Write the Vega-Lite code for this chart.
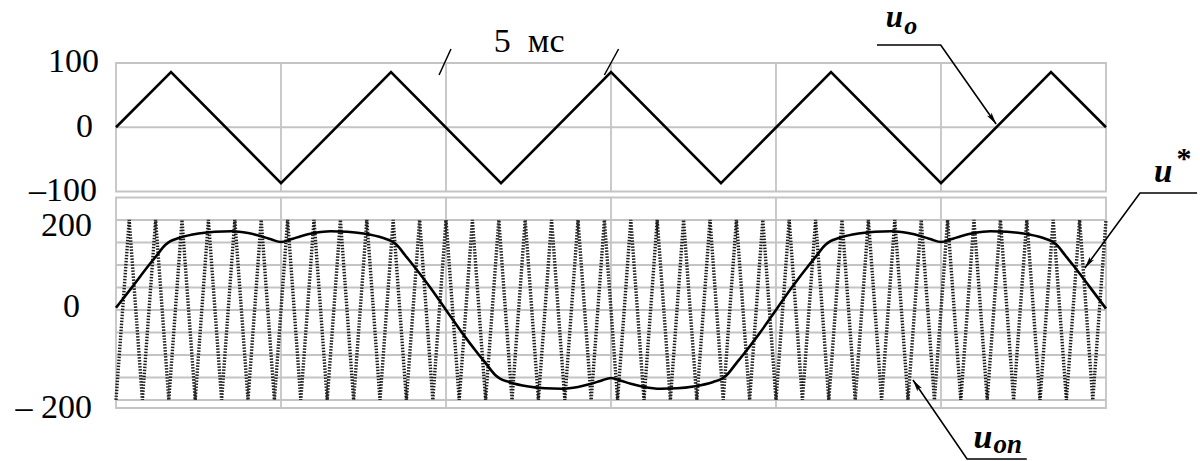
{
  "$schema": "https://vega.github.io/schema/vega-lite/v6.json",
  "width": 990,
  "height": 345,
  "autosize": {"type": "none"},
  "padding": {"left": 116, "top": 63, "right": 94, "bottom": 53},
  "background": "white",
  "config": {"view": {"stroke": null}, "font": "Liberation Serif"},
  "datasets": {
    "uo": [
      {"t": 0, "v": 0}, {"t": 1.667, "v": 86}, {"t": 5, "v": -87}, {"t": 8.333, "v": 86},
      {"t": 11.667, "v": -87}, {"t": 15, "v": 86}, {"t": 18.333, "v": -87}, {"t": 21.667, "v": 86},
      {"t": 25, "v": -87}, {"t": 28.333, "v": 86}, {"t": 30, "v": 0}
    ],
    "ustar": [
      {"t": 0, "v": 5}, {"t": 0.5, "v": 52}, {"t": 1.0, "v": 100}, {"t": 1.2, "v": 118}, {"t": 1.5, "v": 145},
      {"t": 1.65, "v": 153}, {"t": 1.9, "v": 160}, {"t": 2.5, "v": 170}, {"t": 3.0, "v": 174}, {"t": 3.5, "v": 175},
      {"t": 4.0, "v": 171}, {"t": 4.4, "v": 164}, {"t": 4.7, "v": 157}, {"t": 5.0, "v": 151}, {"t": 5.3, "v": 157},
      {"t": 5.6, "v": 164}, {"t": 6.0, "v": 171}, {"t": 6.5, "v": 175}, {"t": 7.0, "v": 174}, {"t": 7.5, "v": 170},
      {"t": 8.1, "v": 160}, {"t": 8.35, "v": 153}, {"t": 8.5, "v": 145}, {"t": 8.8, "v": 118}, {"t": 9.0, "v": 100},
      {"t": 9.5, "v": 52}, {"t": 10.0, "v": 0}, {"t": 10.5, "v": -52}, {"t": 11.0, "v": -100}, {"t": 11.2, "v": -118},
      {"t": 11.5, "v": -145}, {"t": 11.65, "v": -153}, {"t": 11.9, "v": -160}, {"t": 12.5, "v": -170}, {"t": 13.0, "v": -174},
      {"t": 13.5, "v": -175}, {"t": 14.0, "v": -171}, {"t": 14.4, "v": -164}, {"t": 14.7, "v": -157}, {"t": 15.0, "v": -151},
      {"t": 15.3, "v": -157}, {"t": 15.6, "v": -164}, {"t": 16.0, "v": -171}, {"t": 16.5, "v": -175}, {"t": 17.0, "v": -174},
      {"t": 17.5, "v": -170}, {"t": 18.1, "v": -160}, {"t": 18.35, "v": -153}, {"t": 18.5, "v": -145}, {"t": 18.8, "v": -118},
      {"t": 19.0, "v": -100}, {"t": 19.5, "v": -52}, {"t": 20.0, "v": 0}, {"t": 20.5, "v": 52}, {"t": 21.0, "v": 100},
      {"t": 21.2, "v": 118}, {"t": 21.5, "v": 145}, {"t": 21.65, "v": 153}, {"t": 21.9, "v": 160}, {"t": 22.5, "v": 170},
      {"t": 23.0, "v": 174}, {"t": 23.5, "v": 175}, {"t": 24.0, "v": 171}, {"t": 24.4, "v": 164}, {"t": 24.7, "v": 157},
      {"t": 25.0, "v": 151}, {"t": 25.3, "v": 157}, {"t": 25.6, "v": 164}, {"t": 26.0, "v": 171}, {"t": 26.5, "v": 175},
      {"t": 27.0, "v": 174}, {"t": 27.5, "v": 170}, {"t": 28.1, "v": 160}, {"t": 28.35, "v": 153}, {"t": 28.5, "v": 145},
      {"t": 28.8, "v": 118}, {"t": 29.0, "v": 100}, {"t": 29.5, "v": 52}, {"t": 30.0, "v": 3}
    ],
    "carrier": [
      {"t": 0, "v": -200}, {"t": 0.4, "v": 200}, {"t": 0.8, "v": -200}, {"t": 1.2, "v": 200}, {"t": 1.6, "v": -200},
      {"t": 2.0, "v": 200}, {"t": 2.4, "v": -200}, {"t": 2.8, "v": 200}, {"t": 3.2, "v": -200}, {"t": 3.6, "v": 200},
      {"t": 4.0, "v": -200}, {"t": 4.4, "v": 200}, {"t": 4.8, "v": -200}, {"t": 5.2, "v": 200}, {"t": 5.6, "v": -200},
      {"t": 6.0, "v": 200}, {"t": 6.4, "v": -200}, {"t": 6.8, "v": 200}, {"t": 7.2, "v": -200}, {"t": 7.6, "v": 200},
      {"t": 8.0, "v": -200}, {"t": 8.4, "v": 200}, {"t": 8.8, "v": -200}, {"t": 9.2, "v": 200}, {"t": 9.6, "v": -200},
      {"t": 10.0, "v": 200}, {"t": 10.4, "v": -200}, {"t": 10.8, "v": 200}, {"t": 11.2, "v": -200}, {"t": 11.6, "v": 200},
      {"t": 12.0, "v": -200}, {"t": 12.4, "v": 200}, {"t": 12.8, "v": -200}, {"t": 13.2, "v": 200}, {"t": 13.6, "v": -200},
      {"t": 14.0, "v": 200}, {"t": 14.4, "v": -200}, {"t": 14.8, "v": 200}, {"t": 15.2, "v": -200}, {"t": 15.6, "v": 200},
      {"t": 16.0, "v": -200}, {"t": 16.4, "v": 200}, {"t": 16.8, "v": -200}, {"t": 17.2, "v": 200}, {"t": 17.6, "v": -200},
      {"t": 18.0, "v": 200}, {"t": 18.4, "v": -200}, {"t": 18.8, "v": 200}, {"t": 19.2, "v": -200}, {"t": 19.6, "v": 200},
      {"t": 20.0, "v": -200}, {"t": 20.4, "v": 200}, {"t": 20.8, "v": -200}, {"t": 21.2, "v": 200}, {"t": 21.6, "v": -200},
      {"t": 22.0, "v": 200}, {"t": 22.4, "v": -200}, {"t": 22.8, "v": 200}, {"t": 23.2, "v": -200}, {"t": 23.6, "v": 200},
      {"t": 24.0, "v": -200}, {"t": 24.4, "v": 200}, {"t": 24.8, "v": -200}, {"t": 25.2, "v": 200}, {"t": 25.6, "v": -200},
      {"t": 26.0, "v": 200}, {"t": 26.4, "v": -200}, {"t": 26.8, "v": 200}, {"t": 27.2, "v": -200}, {"t": 27.6, "v": 200},
      {"t": 28.0, "v": -200}, {"t": 28.4, "v": 200}, {"t": 28.8, "v": -200}, {"t": 29.2, "v": 200}, {"t": 29.6, "v": -200},
      {"t": 30.0, "v": 200}
    ],
    "vgrid": [{"t": 5}, {"t": 10}, {"t": 15}, {"t": 20}, {"t": 25}],
    "hgrid": [{"v": -200}, {"v": -150}, {"v": -100}, {"v": -50}, {"v": 0}, {"v": 50}, {"v": 100}, {"v": 150}, {"v": 200}],
    "top_labels": [
      {"t": -0.515, "v": 102, "s": "100"},
      {"t": -0.697, "v": 0, "s": "0"},
      {"t": -0.576, "v": -98.5, "s": "–100"}
    ],
    "bottom_labels": [
      {"t": -0.727, "v": 186.5, "s": "200"},
      {"t": -1.09, "v": 6.7, "s": "0"},
      {"t": -0.727, "v": -217.8, "s": "– 200"}
    ],
    "slashes": [
      {"t": 9.79, "v": 81.3, "t2": 10.15, "v2": 121.8},
      {"t": 14.8, "v": 81.3, "t2": 15.23, "v2": 121.8}
    ],
    "uo_arrow": [{"t": 23.06, "v": 128}, {"t": 24.99, "v": 128}, {"t": 26.67, "v": 5.1}],
    "uo_head": [{"t": 26.67, "v": 5.1}],
    "uo_text": [{"t": 23.59, "v": 156, "s": "u", "k": "main"}, {"t": 24.08, "v": 145.1, "s": "o", "k": "sub"}],
    "us_arrow": [{"t": 29.36, "v": 93.4}, {"t": 31.03, "v": 260}, {"t": 32.76, "v": 260}],
    "us_head": [{"t": 29.36, "v": 93.4}],
    "uon_arrow": [{"t": 24.15, "v": -155.5}, {"t": 25.79, "v": -331.1}, {"t": 27.6, "v": -331.1}],
    "uon_head": [{"t": 24.15, "v": -155.5}]
  },
  "layer": [
    {
      "layer": [
        {
          "data": {"values": [{}]},
          "mark": {"type": "rect", "fill": null, "stroke": "#c4c4c4", "strokeWidth": 1.8},
          "encoding": {
            "x": {"datum": 0, "type": "quantitative", "scale": {"domain": [0, 30], "nice": false}, "axis": null},
            "x2": {"datum": 30},
            "y": {"datum": 100, "type": "quantitative", "scale": {"domain": [-437, 100], "nice": false, "zero": false}, "axis": null},
            "y2": {"datum": -100}
          }
        },
        {
          "data": {"values": [{}]},
          "mark": {"type": "rule", "stroke": "#c4c4c4", "strokeWidth": 1.8},
          "encoding": {
            "x": {"datum": 0, "type": "quantitative", "axis": null},
            "x2": {"datum": 30},
            "y": {"datum": 0, "type": "quantitative", "axis": null}
          }
        },
        {
          "data": {"name": "vgrid"},
          "mark": {"type": "rule", "stroke": "#c4c4c4", "strokeWidth": 1.8},
          "encoding": {
            "x": {"field": "t", "type": "quantitative", "axis": null},
            "y": {"datum": 100, "type": "quantitative", "axis": null},
            "y2": {"datum": -100}
          }
        },
        {
          "data": {"name": "uo"},
          "mark": {"type": "line", "color": "black", "strokeWidth": 2.6},
          "encoding": {
            "x": {"field": "t", "type": "quantitative", "axis": null},
            "y": {"field": "v", "type": "quantitative", "axis": null}
          }
        },
        {
          "data": {"name": "top_labels"},
          "mark": {"type": "text", "font": "Liberation Serif", "fontSize": 34, "color": "black", "align": "right", "baseline": "middle"},
          "encoding": {
            "x": {"field": "t", "type": "quantitative", "axis": null},
            "y": {"field": "v", "type": "quantitative", "axis": null},
            "text": {"field": "s"}
          }
        },
        {
          "data": {"name": "slashes"},
          "mark": {"type": "rule", "color": "black", "strokeWidth": 1.5},
          "encoding": {
            "x": {"field": "t", "type": "quantitative", "axis": null},
            "x2": {"field": "t2"},
            "y": {"field": "v", "type": "quantitative", "axis": null},
            "y2": {"field": "v2"}
          }
        },
        {
          "data": {"values": [{}]},
          "mark": {"type": "text", "text": "5\u00a0\u00a0мс", "font": "Liberation Serif", "fontSize": 34, "color": "black", "align": "center", "baseline": "alphabetic"},
          "encoding": {
            "x": {"datum": 12.52, "type": "quantitative", "axis": null},
            "y": {"datum": 117.1, "type": "quantitative", "axis": null}
          }
        },
        {
          "data": {"name": "uo_arrow"},
          "mark": {"type": "line", "color": "black", "strokeWidth": 1.6},
          "encoding": {
            "x": {"field": "t", "type": "quantitative", "axis": null},
            "y": {"field": "v", "type": "quantitative", "axis": null}
          }
        },
        {
          "data": {"name": "uo_head"},
          "mark": {"type": "point", "shape": "M0,0L-0.45,-2L0,-1.5L0.45,-2Z", "size": 144, "angle": -35, "filled": true, "color": "black", "opacity": 1, "strokeWidth": 0},
          "encoding": {
            "x": {"field": "t", "type": "quantitative", "axis": null},
            "y": {"field": "v", "type": "quantitative", "axis": null}
          }
        },
        {
          "data": {"name": "uo_text"},
          "mark": {"type": "text", "font": "Liberation Serif", "fontStyle": "italic", "fontWeight": "bold", "color": "black", "align": "center", "baseline": "alphabetic"},
          "encoding": {
            "x": {"field": "t", "type": "quantitative", "axis": null},
            "y": {"field": "v", "type": "quantitative", "axis": null},
            "text": {"field": "s"},
            "size": {"field": "k", "type": "nominal", "scale": {"domain": ["main", "sub"], "range": [31, 26]}, "legend": null}
          }
        }
      ]
    },
    {
      "layer": [
        {
          "data": {"values": [{}]},
          "mark": {"type": "rect", "fill": null, "stroke": "#c4c4c4", "strokeWidth": 1.8},
          "encoding": {
            "x": {"datum": 0, "type": "quantitative", "axis": null},
            "x2": {"datum": 30},
            "y": {"datum": 250, "type": "quantitative", "scale": {"domain": [-217.8, 548.9], "nice": false, "zero": false}, "axis": null},
            "y2": {"datum": -217.8}
          }
        },
        {
          "data": {"name": "hgrid"},
          "mark": {"type": "rule", "stroke": "#c4c4c4", "strokeWidth": 1.8},
          "encoding": {
            "x": {"datum": 0, "type": "quantitative", "axis": null},
            "x2": {"datum": 30},
            "y": {"field": "v", "type": "quantitative", "axis": null}
          }
        },
        {
          "data": {"name": "vgrid"},
          "mark": {"type": "rule", "stroke": "#c4c4c4", "strokeWidth": 1.8},
          "encoding": {
            "x": {"field": "t", "type": "quantitative", "axis": null},
            "y": {"datum": 250, "type": "quantitative", "axis": null},
            "y2": {"datum": -217.8}
          }
        },
        {
          "data": {"name": "bottom_labels"},
          "mark": {"type": "text", "font": "Liberation Serif", "fontSize": 34, "color": "black", "align": "right", "baseline": "middle"},
          "encoding": {
            "x": {"field": "t", "type": "quantitative", "axis": null},
            "y": {"field": "v", "type": "quantitative", "axis": null},
            "text": {"field": "s"}
          }
        },
        {
          "data": {"name": "carrier"},
          "mark": {"type": "line", "color": "#1e1e1e", "strokeWidth": 3.4, "strokeDash": [1.5, 1.5]},
          "encoding": {
            "x": {"field": "t", "type": "quantitative", "axis": null},
            "y": {"field": "v", "type": "quantitative", "axis": null}
          }
        },
        {
          "data": {"name": "ustar"},
          "mark": {"type": "line", "color": "black", "strokeWidth": 2.6, "interpolate": "monotone"},
          "encoding": {
            "x": {"field": "t", "type": "quantitative", "axis": null},
            "y": {"field": "v", "type": "quantitative", "axis": null}
          }
        },
        {
          "data": {"name": "us_arrow"},
          "mark": {"type": "line", "color": "black", "strokeWidth": 1.6},
          "encoding": {
            "x": {"field": "t", "type": "quantitative", "axis": null},
            "y": {"field": "v", "type": "quantitative", "axis": null}
          }
        },
        {
          "data": {"name": "us_head"},
          "mark": {"type": "point", "shape": "M0,0L-0.45,-2L0,-1.5L0.45,-2Z", "size": 144, "angle": 36, "filled": true, "color": "black", "opacity": 1, "strokeWidth": 0},
          "encoding": {
            "x": {"field": "t", "type": "quantitative", "axis": null},
            "y": {"field": "v", "type": "quantitative", "axis": null}
          }
        },
        {
          "data": {"values": [{}]},
          "mark": {"type": "text", "text": "u", "font": "Liberation Serif", "fontStyle": "italic", "fontWeight": "bold", "fontSize": 33, "color": "black", "align": "center", "baseline": "alphabetic"},
          "encoding": {
            "x": {"datum": 31.73, "type": "quantitative", "axis": null},
            "y": {"datum": 284.5, "type": "quantitative", "axis": null}
          }
        },
        {
          "data": {"values": [{}]},
          "mark": {"type": "text", "text": "*", "font": "Liberation Serif", "fontWeight": "bold", "fontSize": 30, "color": "black", "align": "center", "baseline": "alphabetic"},
          "encoding": {
            "x": {"datum": 32.36, "type": "quantitative", "axis": null},
            "y": {"datum": 315.6, "type": "quantitative", "axis": null}
          }
        },
        {
          "data": {"name": "uon_arrow"},
          "mark": {"type": "line", "color": "black", "strokeWidth": 1.6},
          "encoding": {
            "x": {"field": "t", "type": "quantitative", "axis": null},
            "y": {"field": "v", "type": "quantitative", "axis": null}
          }
        },
        {
          "data": {"name": "uon_head"},
          "mark": {"type": "point", "shape": "M0,0L-0.45,-2L0,-1.5L0.45,-2Z", "size": 144, "angle": 145.6, "filled": true, "color": "black", "opacity": 1, "strokeWidth": 0},
          "encoding": {
            "x": {"field": "t", "type": "quantitative", "axis": null},
            "y": {"field": "v", "type": "quantitative", "axis": null}
          }
        },
        {
          "data": {"values": [{}]},
          "mark": {"type": "text", "text": "u", "font": "Liberation Serif", "fontStyle": "italic", "fontWeight": "bold", "fontSize": 34, "color": "black", "align": "center", "baseline": "alphabetic"},
          "encoding": {
            "x": {"datum": 26.27, "type": "quantitative", "axis": null},
            "y": {"datum": -306.6, "type": "quantitative", "axis": null}
          }
        },
        {
          "data": {"values": [{}]},
          "mark": {"type": "text", "text": "on", "font": "Liberation Serif", "fontStyle": "italic", "fontWeight": "bold", "fontSize": 27, "color": "black", "align": "center", "baseline": "alphabetic"},
          "encoding": {
            "x": {"datum": 27.02, "type": "quantitative", "axis": null},
            "y": {"datum": -317.8, "type": "quantitative", "axis": null}
          }
        }
      ]
    }
  ],
  "resolve": {"scale": {"y": "independent"}}
}
